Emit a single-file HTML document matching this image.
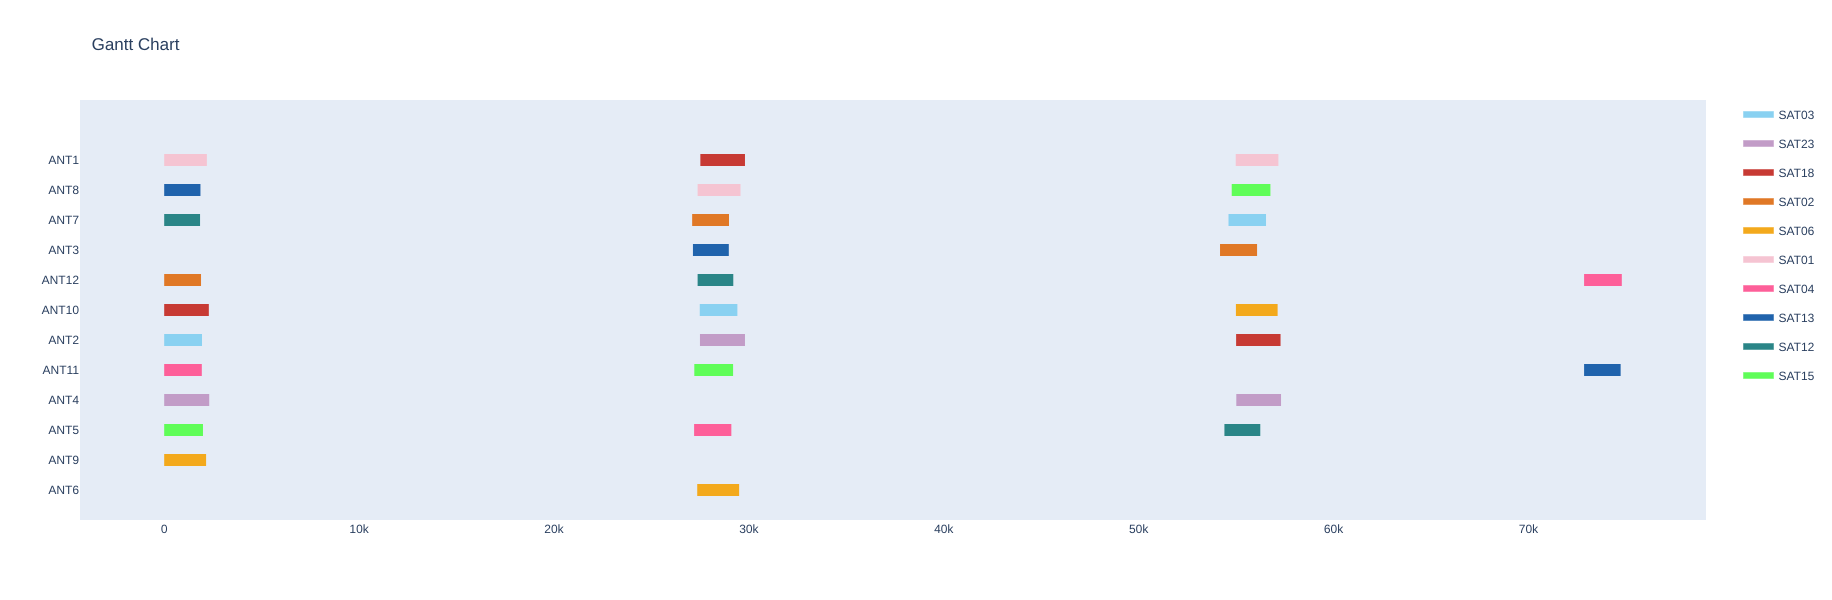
<!DOCTYPE html>
<html lang="en">
<head>
<meta charset="utf-8">
<title>Gantt Chart</title>
<style>
  html, body { margin: 0; padding: 0; background: #fff; }
  svg { display: block; }
  text { font-family: "Liberation Sans", Arial, sans-serif; fill: #2a3f5f; text-rendering: geometricPrecision; }
</style>
</head>
<body>
<svg id="chart" xmlns="http://www.w3.org/2000/svg" width="1832" height="600" viewBox="0 0 1832 600">
  <rect x="0" y="0" width="1832" height="600" fill="#ffffff"/>
  <rect x="80" y="100" width="1626" height="420" fill="#e5ecf6"/>
  <text x="91.6" y="50" font-size="17">Gantt Chart</text>
  <g id="bars"></g>
  <g id="y-axis"></g>
  <g id="x-axis"></g>
  <g id="legend"></g>
</svg>
<script>
const antennas = ['ANT1', 'ANT8', 'ANT7', 'ANT3', 'ANT12', 'ANT10', 'ANT2', 'ANT11', 'ANT4', 'ANT5', 'ANT9', 'ANT6'];
const satellites = ['SAT03', 'SAT23', 'SAT18', 'SAT02', 'SAT06', 'SAT01', 'SAT04', 'SAT13', 'SAT12', 'SAT15'];
const satelliteColors = ['#89d1f1', '#c29cc7', '#c73a34', '#e07826', '#f3a91c', '#f5c4d2', '#fd5f99', '#2063ac', '#2a8587', '#5ffd58'];
const xTickValues = [0, 10000, 20000, 30000, 40000, 50000, 60000, 70000];
const xTickLabels = ['0', '10k', '20k', '30k', '40k', '50k', '60k', '70k'];

const taskAntenna = ['ANT1', 'ANT8', 'ANT7', 'ANT12', 'ANT10', 'ANT2', 'ANT11', 'ANT4', 'ANT5', 'ANT9',
  'ANT1', 'ANT8', 'ANT7', 'ANT3', 'ANT12', 'ANT10', 'ANT2', 'ANT11', 'ANT5', 'ANT6',
  'ANT1', 'ANT8', 'ANT7', 'ANT3', 'ANT10', 'ANT2', 'ANT4', 'ANT5',
  'ANT12', 'ANT11'];
const taskSatellite = ['SAT01', 'SAT13', 'SAT12', 'SAT02', 'SAT18', 'SAT03', 'SAT04', 'SAT23', 'SAT15', 'SAT06',
  'SAT18', 'SAT01', 'SAT02', 'SAT13', 'SAT12', 'SAT03', 'SAT23', 'SAT15', 'SAT04', 'SAT06',
  'SAT01', 'SAT15', 'SAT03', 'SAT02', 'SAT06', 'SAT18', 'SAT23', 'SAT12',
  'SAT04', 'SAT13'];
const taskStart = [0, 0, 0, 0, 0, 0, 0, 0, 0, 0,
  27510, 27370, 27090, 27130, 27370, 27480, 27490, 27200, 27190, 27350,
  54980, 54775, 54610, 54175, 54990, 55000, 55010, 54400,
  72855, 72855];
const taskEnd = [2190, 1860, 1840, 1890, 2290, 1940, 1930, 2310, 1990, 2150,
  29800, 29570, 28980, 28970, 29200, 29410, 29800, 29190, 29100, 29500,
  57170, 56760, 56535, 56075, 57130, 57280, 57305, 56240,
  74790, 74730];

const SVG_NS = 'http://www.w3.org/2000/svg';
const plotLeft = 80, plotWidth = 1626;
const xMin = -4320, xMax = 79110;
const firstRowY = 160, rowStep = 30, barHeight = 12;
const legendTop = 114.5, legendStep = 29;

function xScale(value) {
  return plotLeft + (value - xMin) / (xMax - xMin) * plotWidth;
}
function yScale(antenna) {
  return firstRowY + antennas.indexOf(antenna) * rowStep;
}
function colorOf(satellite) {
  return satelliteColors[satellites.indexOf(satellite)];
}
function makeEl(tag, attrs) {
  const el = document.createElementNS(SVG_NS, tag);
  Object.keys(attrs).forEach(function (k) { el.setAttribute(k, attrs[k]); });
  return el;
}

const barsGroup = document.getElementById('bars');
taskAntenna.forEach(function (antenna, i) {
  const x0 = xScale(taskStart[i]);
  const x1 = xScale(taskEnd[i]);
  const bar = makeEl('rect', {
    x: x0,
    y: yScale(antenna) - barHeight / 2,
    width: x1 - x0,
    height: barHeight,
    fill: colorOf(taskSatellite[i])
  });
  
  
  barsGroup.appendChild(bar);
});

const yAxisGroup = document.getElementById('y-axis');
antennas.forEach(function (antenna) {
  const label = makeEl('text', {
    x: 79,
    y: yScale(antenna) + 4.2,
    'font-size': 12,
    'text-anchor': 'end'
  });
  label.textContent = antenna;
  
  
  yAxisGroup.appendChild(label);
});

const xAxisGroup = document.getElementById('x-axis');
xTickValues.forEach(function (value, i) {
  const label = makeEl('text', {
    x: xScale(value),
    y: 533,
    'font-size': 12,
    'text-anchor': 'middle'
  });
  label.textContent = xTickLabels[i];
  
  
  xAxisGroup.appendChild(label);
});

const legendGroup = document.getElementById('legend');
satellites.forEach(function (satellite, i) {
  const rowY = legendTop + i * legendStep;
  const entry = makeEl('g', {});
  
  
  const swatch = makeEl('rect', {
    x: 1743.5,
    y: rowY - 3,
    width: 30,
    height: 6,
    fill: satelliteColors[i],
    stroke: satelliteColors[i],
    'stroke-opacity': 0.5,
    'stroke-width': 1
  });
  
  
  entry.appendChild(swatch);
  const label = makeEl('text', {
    x: 1778.5,
    y: rowY + 4.4,
    'font-size': 12
  });
  label.textContent = satellite;
  
  
  entry.appendChild(label);
  legendGroup.appendChild(entry);
});
</script>
</body>
</html>
